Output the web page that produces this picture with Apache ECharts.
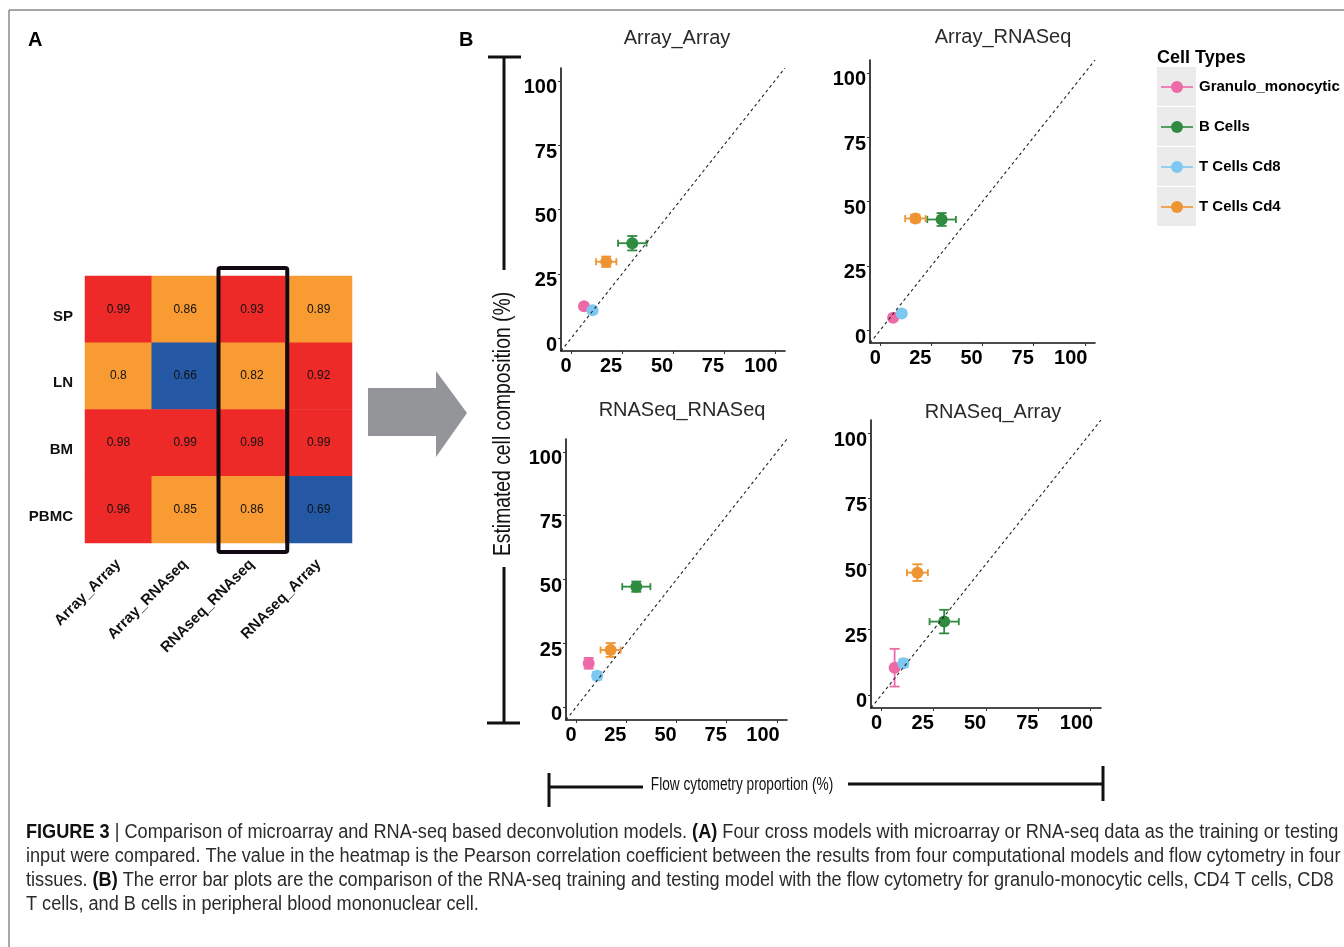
<!DOCTYPE html>
<html>
<head>
<meta charset="utf-8">
<script src="https://cdn.jsdelivr.net/npm/echarts@6/dist/echarts.min.js"></script>
<style>
  html, body { margin: 0; padding: 0; background: #fff; }
  #main { width: 1344px; height: 947px; }
</style>
</head>
<body>
<div id="main"></div>
<script>
// ---- panel A: heatmap of Pearson correlations ----
const models = ['Array_Array', 'Array_RNAseq', 'RNAseq_RNAseq', 'RNAseq_Array'];
const tissues = ['SP', 'LN', 'BM', 'PBMC'];
const pearson = [
  [0.99, 0.86, 0.93, 0.89],
  [0.8, 0.66, 0.82, 0.92],
  [0.98, 0.99, 0.98, 0.99],
  [0.96, 0.85, 0.86, 0.69]
];

// ---- panel B: estimated vs flow cytometry ----
const cellTypes = ['Granulo_monocytic', 'B Cells', 'T Cells Cd8', 'T Cells Cd4'];
const cellColors = ['#EE6AA7', '#2E8B3F', '#7DC8F0', '#EE9433'];
const flowX = [6.3, 30.0, 10.5, 17.2];
const flowXErr = [1.0, 7.0, 1.0, 5.0];
const panelTitles = ['Array_Array', 'Array_RNASeq', 'RNASeq_RNASeq', 'RNASeq_Array'];
const estY = [
  [12.4, 36.9, 10.8, 29.7],
  [4.8, 43.0, 6.5, 43.4],
  [17.2, 47.2, 12.3, 22.4],
  [10.4, 28.0, 12.1, 46.7]
];
const estYErr = [
  [1.0, 2.8, 1.0, 2.0],
  [1.0, 2.5, 1.0, 1.5],
  [2.1, 2.0, 1.5, 2.7],
  [7.2, 4.5, 1.5, 3.2]
];
const axisTicks = [0, 25, 50, 75, 100];

const chart = echarts.init(document.getElementById('main'));
const SANS = 'Liberation Sans, Arial, sans-serif';

// heatmap grid + 4 scatter grids
const grids = [
  { left: 85, top: 276, width: 267, height: 267 },
  { left: 561, top: 68, width: 224, height: 283 },
  { left: 870, top: 60, width: 225, height: 283 },
  { left: 566, top: 439, width: 221, height: 281 },
  { left: 871, top: 420, width: 230, height: 288 }
];
const titlePos = [[677, 38], [1003, 37], [682, 410], [993, 412]];

const heatData = [];
tissues.forEach((t, i) => {
  models.forEach((m, j) => heatData.push([j, i, pearson[i][j]]));
});

const xAxes = [{
  type: 'category', gridIndex: 0, data: models,
  axisLine: { show: false }, axisTick: { show: false },
  axisLabel: { rotate: 45, margin: 19, fontSize: 15, fontWeight: 'bold', color: '#111', fontFamily: SANS }
}];
const yAxes = [{
  type: 'category', gridIndex: 0, data: tissues, inverse: true,
  axisLine: { show: false }, axisTick: { show: false },
  axisLabel: {
    margin: 12, formatter: v => '{t|' + v + '}',
    rich: { t: { fontSize: 15, fontWeight: 'bold', color: '#111', fontFamily: SANS, padding: [14, 0, 0, 0] } }
  }
}];

// the figure's tick labels sit a little off their ticks
const xLabelShift = { 0: 10, 25: 22, 50: 22, 75: 22, 100: 28 };
const tickFont = { fontSize: 20, fontWeight: 'bold', color: '#000', fontFamily: SANS };
const numAxis = (gi, isX) => ({
  type: 'value', gridIndex: gi, min: -5, max: 105,
  splitLine: { show: false },
  axisLine: { show: true, onZero: false, lineStyle: { color: '#111', width: 1.6 } },
  axisTick: { show: true, length: 3, customValues: axisTicks, lineStyle: { color: '#333' } },
  axisLabel: isX ? {
    customValues: axisTicks, margin: 5,
    formatter: v => '{s' + v + '|' + v + '}',
    rich: Object.fromEntries(axisTicks.map(v => ['s' + v, { ...tickFont, padding: [0, xLabelShift[v], 0, 0] }]))
  } : {
    customValues: axisTicks, margin: 4,
    formatter: v => '{t|' + v + '}',
    rich: { t: { ...tickFont, padding: [14, 0, 0, 0] } }
  }
});

const series = [{
  type: 'heatmap', xAxisIndex: 0, yAxisIndex: 0, data: heatData,
  label: { show: true, fontSize: 12, color: '#111', fontFamily: SANS, formatter: p => String(p.value[2]) },
  itemStyle: { borderWidth: 0 }
}];

function renderErrorBar(params, api) {
  const x = api.value(0), y = api.value(1), xe = api.value(2), ye = api.value(3);
  const color = cellColors[api.value(4)];
  const c = api.coord([x, y]);
  const l = api.coord([x - xe, y])[0], r = api.coord([x + xe, y])[0];
  const t = api.coord([x, y + ye])[1], b = api.coord([x, y - ye])[1];
  const style = { stroke: color, lineWidth: 1.8 };
  const hx = 3.5, hy = 5;
  const seg = (x1, y1, x2, y2) => ({ type: 'line', shape: { x1, y1, x2, y2 }, style });
  return {
    type: 'group',
    children: [
      seg(l, c[1], r, c[1]),
      seg(l, c[1] - hx, l, c[1] + hx),
      seg(r, c[1] - hx, r, c[1] + hx),
      seg(c[0], t, c[0], b),
      seg(c[0] - hy, t, c[0] + hy, t),
      seg(c[0] - hy, b, c[0] + hy, b)
    ]
  };
}

panelTitles.forEach((title, p) => {
  const gi = p + 1;
  xAxes.push(numAxis(gi, true));
  yAxes.push(numAxis(gi, false));
  // identity line
  series.push({
    type: 'line', xAxisIndex: gi, yAxisIndex: gi, silent: true, symbol: 'none',
    data: [[-5, -5], [105, 105]],
    lineStyle: { color: '#222', width: 1.1, type: [3, 3] }
  });
  series.push({
    type: 'custom', xAxisIndex: gi, yAxisIndex: gi, silent: true,
    renderItem: renderErrorBar,
    data: cellTypes.map((c, k) => [flowX[k], estY[p][k], flowXErr[k], estYErr[p][k], k])
  });
  cellTypes.forEach((c, k) => {
    series.push({
      type: 'scatter', name: c, xAxisIndex: gi, yAxisIndex: gi,
      symbolSize: 12, itemStyle: { color: cellColors[k], opacity: 1 },
      data: [[flowX[k], estY[p][k]]]
    });
  });
});

// decorations: frame, labels, arrow, shared axis brackets, legend, caption
const ink = '#111';
const line = (x1, y1, x2, y2, w, color) => ({
  type: 'line', shape: { x1, y1, x2, y2 }, style: { stroke: color || ink, lineWidth: w || 3 }, silent: true
});
const graphic = [
  line(9, 10, 1344, 10, 1.5, '#8a8a8a'),
  line(9, 10, 9, 947, 1.5, '#8a8a8a'),
  { type: 'text', x: 28, y: 40, style: { text: 'A', font: 'bold 20px ' + SANS, fill: '#000', verticalAlign: 'middle' } },
  { type: 'text', x: 459, y: 40, style: { text: 'B', font: 'bold 20px ' + SANS, fill: '#000', verticalAlign: 'middle' } },
  {
    type: 'polygon', silent: true,
    shape: { points: [[368, 388], [436, 388], [436, 371], [467, 413], [436, 457], [436, 436], [368, 436]] },
    style: { fill: '#939598' }
  },
  // y bracket
  line(488, 57, 521, 57), line(504, 57, 504, 270),
  line(504, 567, 504, 723), line(487, 723, 520, 723),
  {
    type: 'text', x: 504, y: 424, rotation: Math.PI / 2, scaleX: 0.84,
    style: { text: 'Estimated cell composition (%)', font: '23px ' + SANS, fill: '#111', align: 'center', verticalAlign: 'middle' }
  },
  // x bracket
  line(549, 773, 549, 807), line(549, 787, 643, 787),
  line(848, 784, 1102, 784), line(1103, 766, 1103, 801),
  {
    type: 'text', x: 742, y: 785, scaleX: 0.76,
    style: { text: 'Flow cytometry proportion (%)', font: '18px ' + SANS, fill: '#111', align: 'center', verticalAlign: 'middle' }
  },
  { type: 'text', x: 1157, y: 58, style: { text: 'Cell Types', font: 'bold 18px ' + SANS, fill: '#000', verticalAlign: 'middle' } }
];
panelTitles.forEach((t, p) => {
  graphic.push({
    type: 'text', x: titlePos[p][0], y: titlePos[p][1],
    style: { text: t, font: '20px ' + SANS, fill: '#2a2a2a', align: 'center', verticalAlign: 'middle' }
  });
});
cellTypes.forEach((c, k) => {
  const y0 = 67 + 40 * k;
  graphic.push({ type: 'rect', silent: true, shape: { x: 1157, y: y0, width: 39, height: 39 }, style: { fill: '#EBEBEB' } });
  graphic.push(line(1161, y0 + 20, 1193, y0 + 20, 1.6, cellColors[k]));
  graphic.push({ type: 'circle', silent: true, shape: { cx: 1177, cy: y0 + 20, r: 6 }, style: { fill: cellColors[k] } });
  graphic.push({ type: 'text', x: 1199, y: y0 + 20, style: { text: c, font: 'bold 15px ' + SANS, fill: '#000', verticalAlign: 'middle' } });
});

const captionLines = [
  '{b|FIGURE 3} | Comparison of microarray and RNA-seq based deconvolution models. {b|(A)} Four cross models with microarray or RNA-seq data as the training or testing',
  'input were compared. The value in the heatmap is the Pearson correlation coefficient between the results from four computational models and flow cytometry in four',
  'tissues. {b|(B)} The error bar plots are the comparison of the RNA-seq training and testing model with the flow cytometry for granulo-monocytic cells, CD4 T cells, CD8',
  'T cells, and B cells in peripheral blood mononuclear cell.'
];
captionLines.forEach((txt, i) => {
  graphic.push({
    type: 'text', x: 26, y: 832 + 24 * i, scaleX: 0.907,
    style: {
      text: txt, font: '20px ' + SANS, fill: '#2b2b2b', verticalAlign: 'middle',
      rich: { b: { fontWeight: 'bold', fontSize: 20, fontFamily: SANS, fill: '#111' } }
    }
  });
});

chart.setOption({
  animation: false,
  backgroundColor: '#fff',
  grid: grids,
  xAxis: xAxes,
  yAxis: yAxes,
  visualMap: {
    type: 'piecewise', show: false, seriesIndex: 0, dimension: 2,
    pieces: [
      { lt: 0.7, color: '#2457A4' },
      { gte: 0.7, lt: 0.9, color: '#F79B32' },
      { gte: 0.9, color: '#EE2A29' }
    ]
  },
  series: series,
  graphic: graphic
});

// outline around the RNAseq_RNAseq column, placed from the heatmap scale
const cellW = grids[0].width / models.length;
const topC = chart.convertToPixel({ xAxisIndex: 0, yAxisIndex: 0 }, ['RNAseq_RNAseq', 'SP']);
const botC = chart.convertToPixel({ xAxisIndex: 0, yAxisIndex: 0 }, ['RNAseq_RNAseq', 'PBMC']);
graphic.push({
  type: 'rect', silent: true, z: 100,
  shape: { x: topC[0] - cellW / 2, y: topC[1] - cellW / 2 - 8, width: cellW + 2, height: botC[1] - topC[1] + cellW + 17, r: 2 },
  style: { fill: null, stroke: '#120a12', lineWidth: 4 }
});
chart.setOption({ graphic: graphic });
</script>
</body>
</html>
